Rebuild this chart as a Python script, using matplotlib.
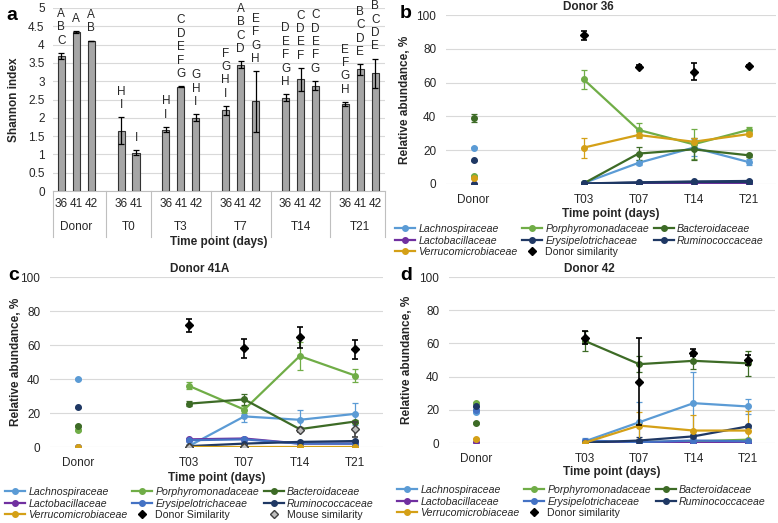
import numpy as np
import matplotlib.pyplot as plt
from matplotlib.lines import Line2D

plt.rcParams['font.family'] = ['Liberation Sans', 'DejaVu Sans']

nan = np.nan

# ---------------- panel a: Shannon index
groups = ['Donor', 'T0', 'T3', 'T7', 'T14', 'T21']
group_donors = [['36', '41', '42'], ['36', '41'], ['36', '41', '42'],
                ['36', '41', '42'], ['36', '41', '42'], ['36', '41', '42']]
shannon = [[3.70, 4.35, 4.10], [1.65, 1.05], [1.68, 2.85, 2.00],
           [2.20, 3.45, 2.45], [2.55, 3.05, 2.88], [2.38, 3.32, 3.22]]
shannon_err = [[0.08, 0.02, 0.01], [0.37, 0.06], [0.08, 0.02, 0.10],
               [0.13, 0.10, 0.83], [0.10, 0.32, 0.13], [0.06, 0.15, 0.40]]
letters = [['ABC', 'A', 'AB'], ['HI', 'I'], ['HI', 'CDEFG', 'GHI'],
           ['FGHI', 'ABCD', 'EFGH'], ['DEFGH', 'CDEF', 'CDEFG'],
           ['EFGH', 'BCDE', 'BCDE']]

# ---------------- panels b-d: relative abundance
xcats = ['Donor', '', 'T03', 'T07', 'T14', 'T21']
families = ['Lachnospiraceae', 'Porphyromonadaceae', 'Bacteroidaceae',
            'Lactobacillaceae', 'Erysipelotrichaceae', 'Ruminococcaceae',
            'Verrucomicrobiaceae']

# Donor 36
lach_36 = [21.5, nan, 0.5, 12.5, 21.5, 13.0]
por_36 = [5.0, nan, 62.0, 32.0, 23.5, 32.0]
bac_36 = [39.0, nan, 0.3, 18.0, 20.5, 17.0]
lac_36 = [0.0, nan, 0.0, 0.0, 0.0, 0.0]
ery_36 = [0.2, nan, 0.2, 0.8, 1.2, 1.2]
rum_36 = [14.0, nan, 0.3, 1.0, 1.5, 1.8]
ver_36 = [3.5, nan, 21.5, 29.0, 25.0, 29.5]
sim_36 = [nan, nan, 88.0, 69.5, 66.5, 70.0]
lach_36_err = [0.3, nan, 0.3, 1.5, 5.0, 1.5]
por_36_err = [0.5, nan, 5.5, 4.0, 9.0, 2.0]
bac_36_err = [2.5, nan, 0.2, 4.0, 6.5, 1.0]
lac_36_err = [0, nan, 0, 0, 0, 0]
ery_36_err = [0, nan, 0.1, 0.3, 0.3, 0.3]
rum_36_err = [0.3, nan, 0.1, 0.3, 0.3, 0.3]
ver_36_err = [0.5, nan, 6.0, 1.5, 2.0, 1.0]
sim_36_err = [nan, nan, 2.5, 1.0, 5.0, 0.5]

# Donor 41A
lach_41 = [40.0, nan, 0.5, 18.0, 16.0, 19.5]
por_41 = [10.0, nan, 36.0, 22.0, 53.5, 42.0]
bac_41 = [12.5, nan, 25.5, 28.0, 10.5, 15.0]
lac_41 = [0.0, nan, 4.5, 5.0, 2.0, 2.0]
ery_41 = [0.0, nan, 4.0, 4.5, 2.0, 2.0]
rum_41 = [23.5, nan, 0.5, 2.0, 3.0, 3.5]
ver_41 = [0.0, nan, 0.0, 0.0, 0.0, 0.0]
sim_41 = [nan, nan, 71.5, 58.0, 64.5, 57.5]
mouse_41 = [nan, nan, 0.0, 0.0, 10.0, 10.5]
lach_41_err = [0.3, nan, 0.3, 3.5, 5.5, 6.5]
por_41_err = [0.5, nan, 2.0, 2.0, 8.0, 4.0]
bac_41_err = [0.5, nan, 1.5, 3.0, 1.0, 1.0]
lac_41_err = [0, nan, 1.0, 1.0, 0.5, 0.5]
ery_41_err = [0, nan, 1.0, 1.0, 0.5, 0.5]
rum_41_err = [0.3, nan, 0.2, 0.5, 0.5, 0.5]
ver_41_err = [0, nan, 0, 0, 0, 0]
sim_41_err = [nan, nan, 4.0, 5.5, 6.0, 5.5]
mouse_41_err = [nan, nan, 0.0, 0.0, 1.0, 4.5]

# Donor 42
lach_42 = [18.5, nan, 1.0, 12.5, 24.0, 22.0]
por_42 = [24.0, nan, 0.2, 0.5, 1.0, 2.0]
bac_42 = [12.0, nan, 61.5, 47.5, 49.5, 48.0]
lac_42 = [0.5, nan, 0.0, 0.0, 0.0, 0.0]
ery_42 = [20.0, nan, 1.5, 0.5, 1.5, 1.0]
rum_42 = [22.0, nan, 0.2, 1.5, 4.0, 10.0]
ver_42 = [2.5, nan, 0.2, 10.5, 7.5, 7.5]
sim_42 = [nan, nan, 63.5, 37.0, 54.5, 50.0]
lach_42_err = [0.5, nan, 2.0, 12.5, 18.5, 4.5]
por_42_err = [0.5, nan, 0.2, 0.3, 0.5, 0.5]
bac_42_err = [0.5, nan, 6.0, 5.0, 5.0, 7.5]
lac_42_err = [0, nan, 0, 0, 0, 0]
ery_42_err = [0.5, nan, 1.0, 0.3, 0.5, 0.5]
rum_42_err = [0.5, nan, 0.2, 2.0, 1.0, 1.0]
ver_42_err = [0.3, nan, 0.3, 8.0, 9.5, 11.5]
sim_42_err = [nan, nan, 4.0, 26.0, 2.0, 3.0]

colors = {'Lachnospiraceae': '#5b9bd5', 'Porphyromonadaceae': '#70ad47',
          'Bacteroidaceae': '#3d6b26', 'Lactobacillaceae': '#7030a0',
          'Erysipelotrichaceae': '#4472c4', 'Ruminococcaceae': '#1f3864',
          'Verrucomicrobiaceae': '#d4a017'}

W, H = 778, 523
fig = plt.figure(figsize=(W / 100, H / 100), dpi=100)
grid_c = '#d9d9d9'
txt_c = '#262626'


def px_axes(l, t, r, b):
    return fig.add_axes([l / W, 1 - b / H, (r - l) / W, (b - t) / H])


# ---------------- a
ax = px_axes(53, 8, 385, 191)
slot = 0
xs_all, lab_all, seps, centers = [], [], [], []
for g, sub, vals, errs, lets in zip(groups, group_donors, shannon, shannon_err, letters):
    xs = np.arange(slot, slot + len(sub))
    ax.bar(xs, vals, width=0.47, color='#a6a6a6', edgecolor='#333333', lw=0.8,
           yerr=errs, capsize=2, error_kw=dict(elinewidth=0.9, ecolor='black', capthick=0.9),
           zorder=3)
    for x, v, e, l in zip(xs, vals, errs, lets):
        for k, ch in enumerate(reversed(l)):
            ax.text(x, v + e + 0.33 + 0.365 * k, ch, ha='center', va='center',
                    fontsize=8.5, color=txt_c)
    xs_all += list(xs)
    lab_all += sub
    centers.append(xs.mean())
    slot += len(sub) + 1
    seps.append(slot - 1)

ax.set_xlim(-0.55, 21.65)
ax.set_ylim(0, 5)
yt = np.arange(0, 5.01, 0.5)
ax.set_yticks(yt)
ax.set_yticklabels([f'{v:g}' for v in yt])
ax.set_xticks(xs_all)
ax.set_xticklabels(lab_all)
ax.tick_params(length=0, labelsize=8.5, colors=txt_c)
ax.tick_params(axis='x', pad=5)
ax.tick_params(axis='y', pad=6)
ax.grid(axis='y', color=grid_c, lw=0.8)
ax.set_axisbelow(True)
for s in ['top', 'right', 'left']:
    ax.spines[s].set_visible(False)
ax.spines['bottom'].set_color('#bfbfbf')
tr = ax.get_xaxis_transform()
for s in [-0.55] + seps[:-1] + [21.65]:
    ax.plot([s, s], [0, -0.25], transform=tr, color='#bfbfbf', lw=0.8, clip_on=False)
for g, c in zip(groups, centers):
    ax.text(c, -0.197, g, transform=tr, ha='center', va='center', fontsize=8.5, color=txt_c)
ax.text(0.5, -0.28, 'Time point (days)', transform=ax.transAxes, ha='center',
        va='center', fontsize=8.5, fontweight='bold', color=txt_c)
ax.set_ylabel('Shannon index', fontsize=8.5, fontweight='bold', color=txt_c)
ax.yaxis.set_label_coords(-0.1, 0.5)
fig.text(6 / W, 1 - 15 / H, 'a', fontsize=14, fontweight='bold', va='center')


# ---------------- b-d
def line_panel(box, title, title_x, series, ylab_x, xlab_y, leg_xy, letter, letter_xy):
    ax = px_axes(*box)
    x = np.arange(len(xcats))
    handles = []
    for name, vals, errs, col, kind in series:
        vals = np.array(vals, float)
        errs = np.array(errs, float)
        if kind == 'line':
            ax.errorbar(x, vals, yerr=errs, color=col, lw=1.6, marker='o', ms=4,
                        elinewidth=0.9, capsize=2, capthick=0.9, zorder=3)
            h = Line2D([], [], color=col, lw=1.6, marker='o', ms=4)
        else:
            fc, ec = col
            ax.errorbar(x, vals, yerr=errs, ls='none', marker='D', ms=4.2, mfc=fc, mec=ec,
                        ecolor=ec, elinewidth=1.2, capsize=2.5, capthick=1.2, zorder=4)
            h = Line2D([], [], ls='none', marker='D', ms=4.2, mfc=fc, mec=ec)
        handles.append((h, name))
    ax.set_xlim(-0.5, 5.5)
    ax.set_ylim(0, 100)
    ax.set_yticks(range(0, 101, 20))
    ax.set_xticks([0, 2, 3, 4, 5])
    ax.set_xticklabels([xcats[i] for i in [0, 2, 3, 4, 5]])
    ax.tick_params(length=0, labelsize=8.5, colors=txt_c, pad=7)
    ax.grid(axis='y', color=grid_c, lw=0.8)
    ax.set_axisbelow(True)
    for s in ax.spines.values():
        s.set_visible(False)
    ax.text(title_x, 1.05, title, transform=ax.transAxes, ha='center', va='center',
            fontsize=8.5, fontweight='bold', color=txt_c)
    ax.text(0.5, xlab_y, 'Time point (days)', transform=ax.transAxes, ha='center',
            va='center', fontsize=8.5, fontweight='bold', color=txt_c)
    ax.set_ylabel('Relative abundance, %', fontsize=8.5, fontweight='bold', color=txt_c)
    ax.yaxis.set_label_coords(ylab_x, 0.5)
    # excel fills the legend row by row, matplotlib column by column
    n = len(handles)
    order = [i for c in range(3) for i in range(c, n, 3)]
    leg = fig.legend([handles[i][0] for i in order], [handles[i][1] for i in order],
                     ncol=3, loc='upper left', bbox_to_anchor=(leg_xy[0] / W, 1 - leg_xy[1] / H),
                     frameon=False, fontsize=7.6, handlelength=1.9, handletextpad=0.3,
                     columnspacing=0.45, labelspacing=0.15, borderpad=0, borderaxespad=0)
    for t in leg.get_texts():
        t.set_color(txt_c)
        if 'imilarity' not in t.get_text():
            t.set_style('italic')
    fig.text(letter_xy[0] / W, 1 - letter_xy[1] / H, letter, fontsize=14,
             fontweight='bold', va='center')


def fam_series(vals, errs, ery_color=None):
    out = []
    for f, v, e in zip(families, vals, errs):
        c = colors[f]
        if f == 'Erysipelotrichaceae' and ery_color:
            c = ery_color
        out.append((f, v, e, c, 'line'))
    return out


s36 = fam_series([lach_36, por_36, bac_36, lac_36, ery_36, rum_36, ver_36],
                 [lach_36_err, por_36_err, bac_36_err, lac_36_err, ery_36_err,
                  rum_36_err, ver_36_err], ery_color='#203864')
s36.append(('Donor similarity', sim_36, sim_36_err, ('black', 'black'), 'sim'))
line_panel((446, 15, 776, 184), 'Donor 36', 0.43, s36, -0.105, -0.175, (395, 224),
           'b', (400, 13))

s41 = fam_series([lach_41, por_41, bac_41, lac_41, ery_41, rum_41, ver_41],
                 [lach_41_err, por_41_err, bac_41_err, lac_41_err, ery_41_err,
                  rum_41_err, ver_41_err])
s41.append(('Donor Similarity', sim_41, sim_41_err, ('black', 'black'), 'sim'))
s41.append(('Mouse similarity', mouse_41, mouse_41_err, ('#bfbfbf', '#404040'), 'sim'))
line_panel((50, 277, 383, 447), 'Donor 41A', 0.45, s41, -0.085, -0.18, (5, 487),
           'c', (8, 275))

s42 = fam_series([lach_42, por_42, bac_42, lac_42, ery_42, rum_42, ver_42],
                 [lach_42_err, por_42_err, bac_42_err, lac_42_err, ery_42_err,
                  rum_42_err, ver_42_err])
s42.append(('Donor similarity', sim_42, sim_42_err, ('black', 'black'), 'sim'))
line_panel((449, 277, 775, 443), 'Donor 42', 0.43, s42, -0.11, -0.175, (397, 485),
           'd', (400, 275))

fig.savefig('out.png', dpi=100)
